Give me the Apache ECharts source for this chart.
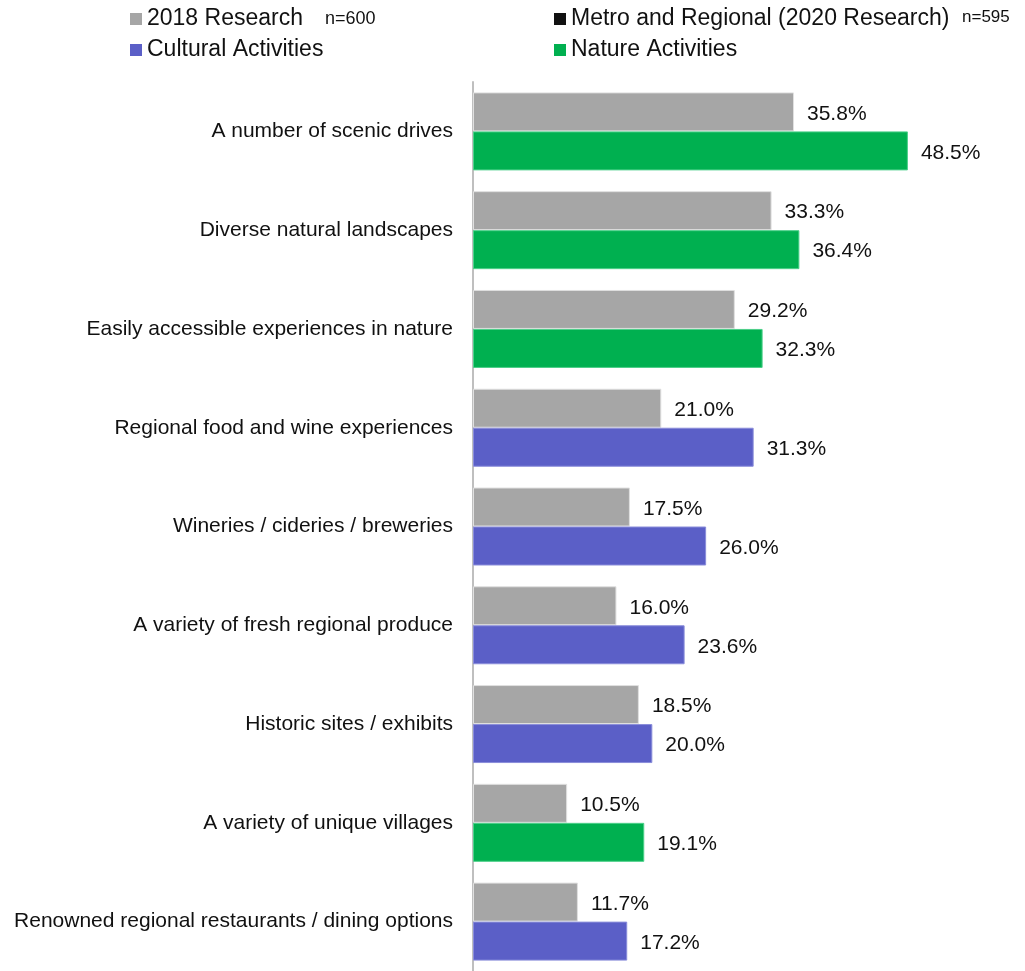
<!DOCTYPE html>
<html><head><meta charset="utf-8">
<script src="https://cdn.jsdelivr.net/npm/echarts@6/dist/echarts.min.js"></script>
<style>html,body{margin:0;padding:0;background:#fff}#c{width:1025px;height:971px}</style>
</head><body><div id="c"></div>
<script>
const categories = ["A number of scenic drives","Diverse natural landscapes","Easily accessible experiences in nature","Regional food and wine experiences","Wineries / cideries / breweries","A variety of fresh regional produce","Historic sites / exhibits","A variety of unique villages","Renowned regional restaurants / dining options"];
const research2018 = [35.8,33.3,29.2,21.0,17.5,16.0,18.5,10.5,11.7];
const research2020 = [48.5,36.4,32.3,31.3,26.0,23.6,20.0,19.1,17.2];
const activityType = ["Nature","Nature","Nature","Cultural","Cultural","Cultural","Cultural","Nature","Cultural"];
const GRAY = '#A6A6A6', GREEN = '#00B050', PURPLE = '#5B5FC7', BLACK = '#111111';
const FONT = '"Liberation Sans", Arial, sans-serif';

const chart = echarts.init(document.getElementById('c'));
const labelCfg = {show:true, position:'right', distance:13, offset:[0,2], color:'#111', fontSize:21, fontFamily:FONT,
  formatter: p => p.value.toFixed(1) + '%'};
const legendBase = {orient:'vertical', top:6, icon:'rect', padding:0,
  itemWidth:12, itemHeight:12, itemGap:5, itemTextGap:5,
  itemStyle:{borderWidth:0},
  textStyle:{fontSize:23, color:'#111', fontFamily:FONT, lineHeight:26}};
chart.setOption({
  animation:false,
  textStyle:{fontFamily:FONT},
  legend:[
    Object.assign({data:['2018 Research','Cultural Activities'], left:130}, legendBase),
    Object.assign({data:['Metro and Regional (2020 Research)','Nature Activities'], left:554}, legendBase)
  ],
  graphic:[
    {type:'text', left:325, top:10, style:{text:'n=600', fontSize:18, fill:'#111', fontFamily:FONT}},
    {type:'text', left:962, top:9, style:{text:'n=595', fontSize:17, fill:'#111', fontFamily:FONT}}
  ],
  grid:{left:473, top:82, width:538, height:894, containLabel:false},
  xAxis:{type:'value', min:0, max:60, show:false},
  yAxis:{type:'category', data:categories, inverse:true,
    axisLine:{show:true, lineStyle:{color:'#BFBFBF', width:2}},
    axisTick:{show:false}, axisLabel:{fontSize:21, color:'#111', margin:20, fontFamily:FONT, padding:[4,0,0,0]},
    splitLine:{show:false}},
  series:[
    {name:'2018 Research', type:'bar', data:research2018, barWidth:39, barGap:'0%',
     itemStyle:{color:GRAY, borderColor:'#E0E0E0', borderWidth:1}, label:labelCfg},
    {name:'Metro and Regional (2020 Research)', type:'bar', barWidth:39,
     itemStyle:{color:BLACK},
     data:research2020.map((v,i)=>({value:v, itemStyle:{color: activityType[i]==='Nature'?GREEN:PURPLE, borderColor: activityType[i]==='Nature'?'#4CD08A':'#8A8DDA', borderWidth:1}})),
     label:labelCfg},
    {name:'Cultural Activities', type:'line', data:[], itemStyle:{color:PURPLE}},
    {name:'Nature Activities', type:'line', data:[], itemStyle:{color:GREEN}}
  ]
});
</script></body></html>
